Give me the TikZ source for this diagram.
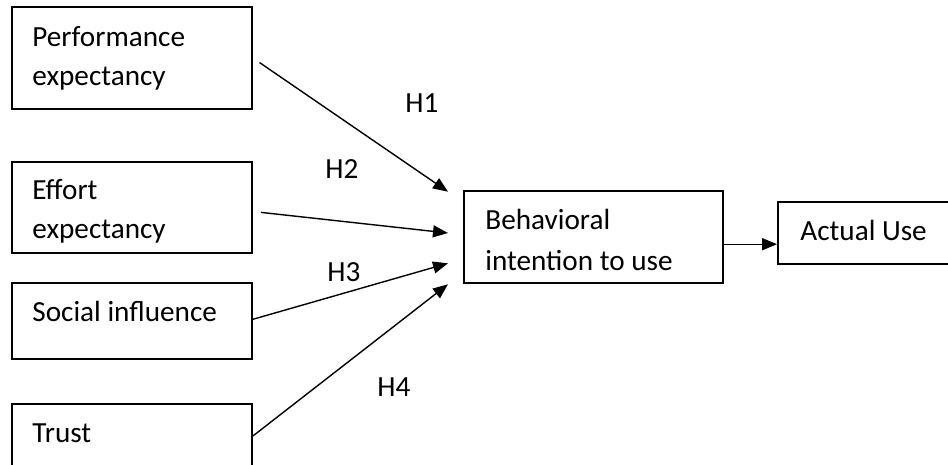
\documentclass[tikz,border=0pt]{standalone}
\usepackage{fontspec}
\setmainfont{Carlito}
\usetikzlibrary{arrows.meta}

\begin{document}
\begin{tikzpicture}[x=0.5pt,y=-0.5pt,
  box/.style={draw,line width=0.9pt,minimum width=120pt,inner sep=0pt},
  txt/.style={anchor=base west,inner sep=0pt,font=\fontsize{14.6}{17.5}\selectfont},
  hyp/.style={line width=0.7pt,-{Triangle[length=7.5pt,width=6pt]}}]
\clip (0,0) rectangle (948,465);
% boxes
\node[box,minimum height=51pt] (perf) at (132,58) {};
\node[box,minimum height=45.8pt] (effort) at (132,207.5) {};
\node[box,minimum height=38pt] (social) at (132,321.3) {};
\node[box,minimum height=32pt] (trust) at (132,436) {};
\node[box,minimum width=129.5pt,minimum height=46pt] (behav) at (593.5,237) {};
\node[box,minimum width=110pt,minimum height=31pt] (actual) at (888,233) {};
% texts
\node[txt] (perfa) at (32,46.7) {Performance};
\node[txt] (perfb) at (32,86) {expectancy};
\node[txt] (efforta) at (32,199.3) {Effort};
\begin{scope}
\clip (0,0) rectangle (948,242);
\node[txt] (effortb) at (32,238.5) {expectancy};
\end{scope}
\node[txt] (sociala) at (32,321.7) {Social influence};
\node[txt] (trusta) at (32,442) {Trust};
\node[txt] (behava) at (485,229) {Behavioral};
\node[txt] (behavb) at (485,270) {intention to use};
\node[txt] (actuala) at (800,240.7) {Actual Use};
%\node[txt] (h0) at (405,60) {H0};
\node[txt] (h1) at (405,113) {H1};
\node[txt] (h2) at (325,178) {H2};
\node[txt] (h3) at (327,281.7) {H3};
\node[txt] (h4) at (377,396.7) {H4};
% arrows
\coordinate (e1) at (448,191.7);
\coordinate (e2) at (448,233);
\coordinate (e3) at (448,263.3);
\coordinate (e4) at (448,284.3);
\draw[hyp,shorten <=4pt] (perf.east) -- (e1);
\draw[hyp,shorten <=4pt] ([yshift=-2pt]effort.east) -- (e2);
\draw[hyp] ([yshift=1pt]social.east) -- (e3);
\draw[hyp] (trust.east) -- (e4);
\coordinate (b) at ([yshift=-3.6pt]behav.east);
\draw[hyp] (b) -- (b -| actual.west);
\end{tikzpicture}
\end{document}
